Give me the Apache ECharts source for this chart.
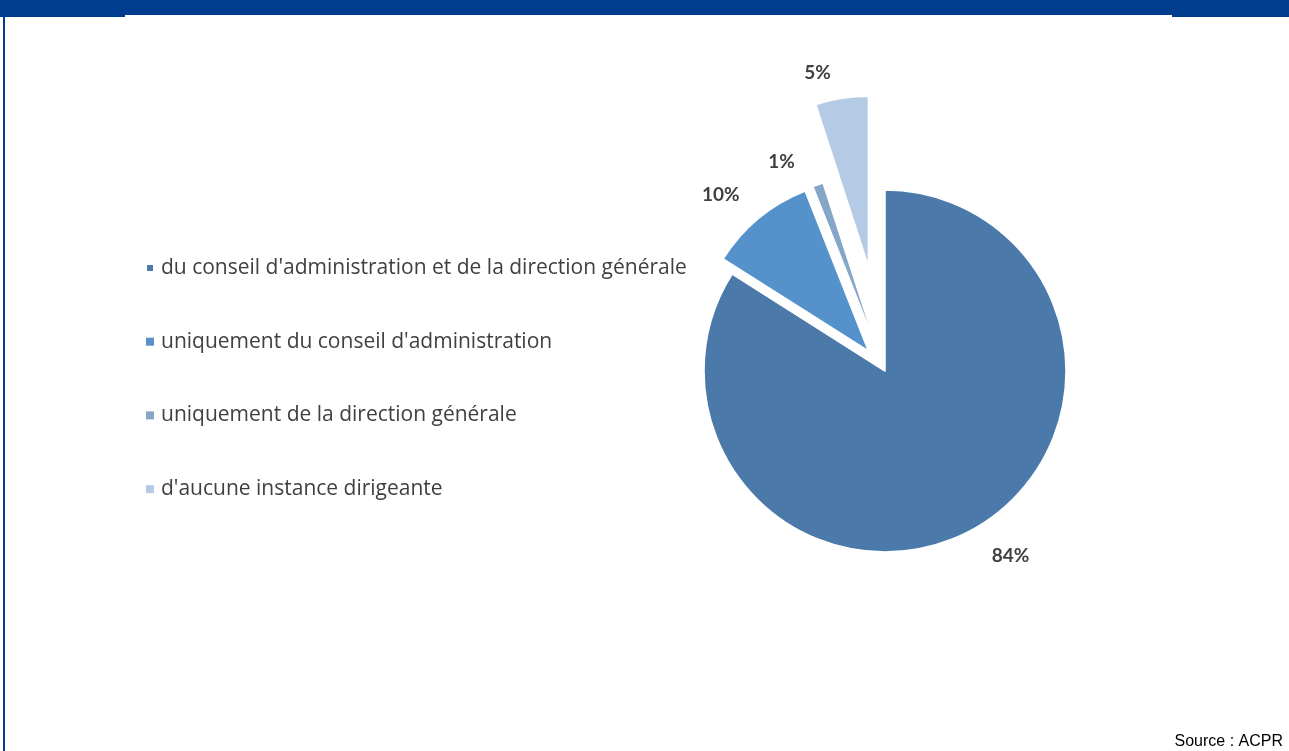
<!DOCTYPE html>
<html>
<head>
<meta charset="utf-8">
<script src="https://cdn.jsdelivr.net/npm/echarts@6/dist/echarts.min.js"></script>
<style>
  html, body { margin: 0; padding: 0; background: #ffffff; }
  #chart { width: 1289px; height: 751px; }
</style>
</head>
<body>
<div id="chart"></div>
<script>
// Slice names and shares (in %)
const categories = [
  "du conseil d'administration et de la direction générale",
  "uniquement du conseil d'administration",
  "uniquement de la direction générale",
  "d'aucune instance dirigeante"
];
const values = [84, 10, 1, 5];
const sourceText = 'Source : ACPR';

// Styling
const colors = ['#4a79aa', '#5591cb', '#86a6c8', '#b5cae4'];
const PIE_CENTER = [885, 371];
// Slices drawn per ring: radius and how far the slices are pulled out
const rings = [
  { members: [0], radius: 181, offset: 0 },
  { members: [1, 2], radius: 172, offset: 26 },
  { members: [3], radius: 170, offset: 106 }
];
// label distance from the arc: [length, length2] per slice
const labelPull = [[30, 0], [30, -5], [24, 10], [26, 2]];

const labelFont = { fontFamily: 'Lato', fontWeight: 'bold', fontSize: 19, color: '#404040' };

const series = rings.map(ring => ({
  type: 'pie',
  center: PIE_CENTER,
  radius: ring.radius,
  startAngle: 90,
  clockwise: true,
  selectedMode: 'multiple',
  selectedOffset: ring.offset,
  avoidLabelOverlap: false,
  silent: true,
  animation: false,
  emphasis: { disabled: true },
  label: Object.assign({ show: true, position: 'outside', formatter: '{c}%' }, labelFont),
  labelLine: { show: false },
  data: categories.map((name, i) => {
    const on = ring.members.indexOf(i) >= 0;
    const style = on
      ? { color: colors[i], borderColor: '#ffffff', borderWidth: 1.5 }
      : { color: 'rgba(0,0,0,0)', borderWidth: 0 };
    return {
      name: name,
      value: values[i],
      selected: on && ring.offset > 0,
      itemStyle: style,
      select: { itemStyle: style },
      label: { show: on },
      labelLine: { show: false, length: labelPull[i][0], length2: labelPull[i][1] }
    };
  })
}));

const chart = echarts.init(document.getElementById('chart'), null, { renderer: 'canvas' });
chart.setOption({
  backgroundColor: '#ffffff',
  animation: false,
  legend: {
    orient: 'vertical',
    left: 140,
    top: 252,
    icon: 'rect',
    itemWidth: 8,
    itemHeight: 8,
    itemGap: 51.7,
    selectedMode: false,
    textStyle: { fontFamily: 'Open Sans', fontSize: 21, color: '#404040', lineHeight: 22, padding: [0, 0, 0, 2] },
    data: categories.map((name, i) => ({ name: name, itemStyle: { color: colors[i] } }))
  },
  graphic: [
    { type: 'rect', shape: { x: 0, y: 0, width: 1289, height: 15 }, style: { fill: '#003d8f' }, silent: true },
    { type: 'rect', shape: { x: 0, y: 0, width: 125, height: 17 }, style: { fill: '#003d8f' }, silent: true },
    { type: 'rect', shape: { x: 1172, y: 0, width: 117, height: 17 }, style: { fill: '#003d8f' }, silent: true },
    { type: 'rect', shape: { x: 3, y: 0, width: 2, height: 751 }, style: { fill: '#003d8f' }, silent: true },
    {
      type: 'text', right: 6, top: 734, silent: true,
      style: { text: sourceText, font: '16px "Liberation Sans", Arial, sans-serif', fill: '#000000' }
    }
  ],
  series: series
});
</script>
</body>
</html>
